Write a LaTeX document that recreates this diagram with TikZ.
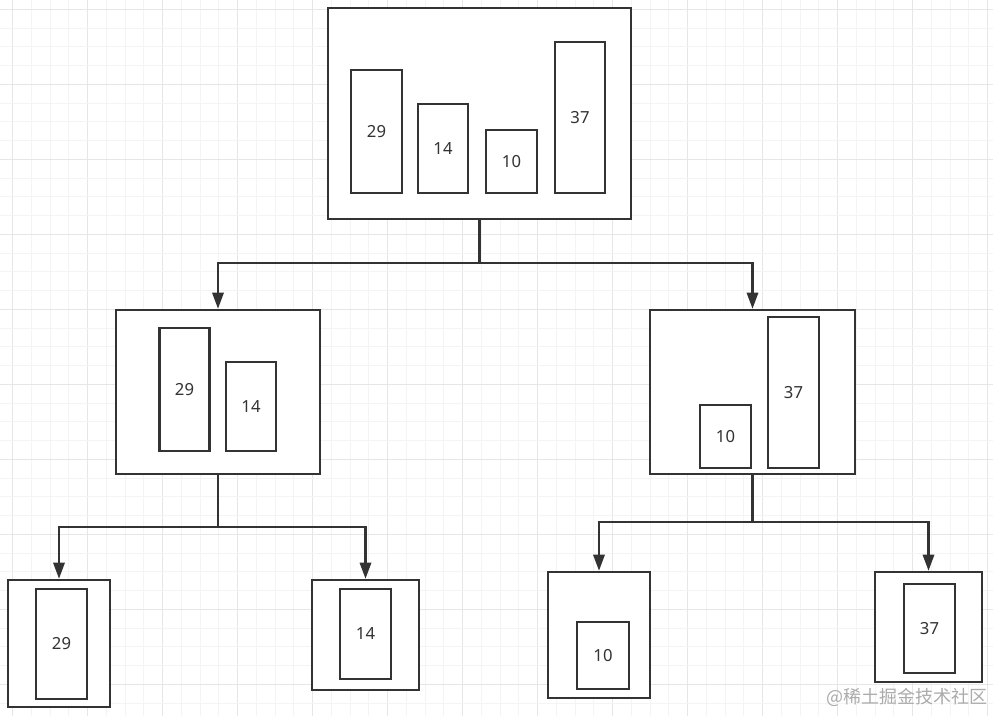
\documentclass[tikz,border=0pt]{standalone}
\usepackage{fontspec}
\setmainfont{Noto Sans}
\newfontfamily\cjkfont{Noto Sans CJK SC}
\usetikzlibrary{arrows.meta,positioning}
\definecolor{LineDark}{HTML}{333333}
\definecolor{GridMinor}{HTML}{F4F4F4}
\definecolor{GridMajor}{HTML}{E6E6E6}
\definecolor{MarkGray}{HTML}{ABABAB}

\begin{document}
\begin{tikzpicture}[
  x=0.75pt,y=-0.75pt,
  box/.style 2 args={rectangle,draw=LineDark,line width=1.9pt,fill=white,inner sep=0pt,
    minimum width=#1*0.75pt,minimum height=#2*0.75pt},
  bar/.style 2 args={box={#1}{#2},text=LineDark,font=\fontsize{12.5}{15}\selectfont},
  flow/.style={-{Triangle[length=12pt,width=8.5pt]},line width=1.6pt,LineDark},
  link/.style={line width=1.6pt,LineDark}
]
\useasboundingbox (0,0) rectangle (993,716);
\fill[white] (0,0) rectangle (993,716);
\foreach \i in {0,...,52} {
  \pgfmathtruncatemacro\maj{mod(\i,4)==0}
  \ifnum\maj=1 \def\gc{GridMajor}\else\def\gc{GridMinor}\fi
  \draw[\gc,line width=0.75pt] (12.7+18.75*\i,0) -- (12.7+18.75*\i,716);
}
\foreach \j in {0,...,37} {
  \pgfmathtruncatemacro\maj{mod(\j,4)==0}
  \ifnum\maj=1 \def\gc{GridMajor}\else\def\gc{GridMinor}\fi
  \draw[\gc,line width=0.75pt] (0,9.3+18.75*\j) -- (993,9.3+18.75*\j);
}

\node[box={303}{211}] (top) at (479.5,113.5) {};
\node[bar={51}{123}] (t29) at (376.5,131.5) {29};
\node[bar={50}{89}] (t14) at (443,148.5) {14};
\node[bar={51}{63}] (t10) at (511.5,161.5) {10};
\node[bar={50}{151}] (t37) at (580,117.5) {37};

\node[box={204}{164}] (midL) at (218,392) {};
\node[bar={50}{123}] (l29) at (184.5,389.5) {29};
\node[bar={50}{89}] (l14) at (251,406.5) {14};

\node[box={205}{164}] (midR) at (752.5,392) {};
\node[bar={51}{63}] (r10) at (725.5,436.5) {10};
\node[bar={51}{151}] (r37) at (793.5,392.5) {37};

\node[box={102}{127}] (leaf29) at (59,643.5) {};
\node[bar={51}{110}] (b29) at (61.5,644) {29};
\node[box={107}{110}] (leaf14) at (365.5,635) {};
\node[bar={51}{90}] (b14) at (365.5,634) {14};
\node[box={102}{126}] (leaf10) at (599,635) {};
\node[bar={52}{67}] (b10) at (603,655.5) {10};
\node[box={107}{110}] (leaf37) at (928.5,627) {};
\node[bar={51}{89}] (b37) at (929.5,628.5) {37};

\coordinate (j1) at (479.5,263);
\coordinate (j2) at (218,527);
\coordinate (j3) at (752.5,522);
\draw[link] (top.south) -- (j1);
\draw[flow] (j1) -| (midL.north);
\draw[flow] (j1) -| (midR.north);
\draw[link] (midL.south) -- (j2);
\draw[flow] (j2) -| (leaf29.north);
\draw[flow] (j2) -| (leaf14.north);
\draw[link] (midR.south) -- (j3);
\draw[flow] (j3) -| (leaf10.north);
\draw[flow] (j3) -| (leaf37.north);

\node[anchor=east,text=MarkGray,inner sep=0pt,font=\cjkfont\fontsize{13.5}{16}\selectfont] (mark) at (988,697) {@稀土掘金技术社区};
\end{tikzpicture}
\end{document}
